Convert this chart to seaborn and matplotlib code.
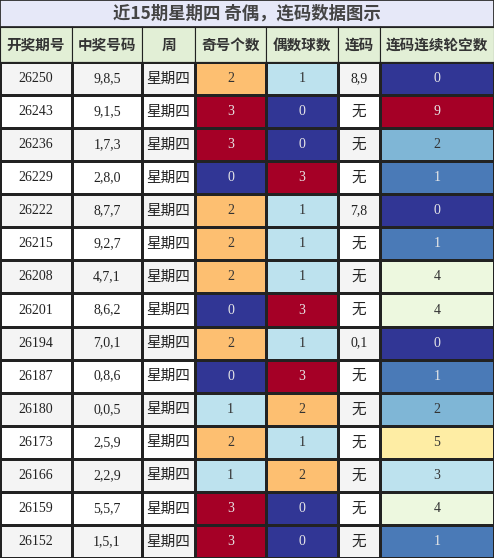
import numpy as np
import pandas as pd
import matplotlib
matplotlib.use("Agg")
import matplotlib.pyplot as plt
import seaborn as sns

issues = ["26250", "26243", "26236", "26229", "26222", "26215", "26208", "26201",
          "26194", "26187", "26180", "26173", "26166", "26159", "26152"]
draws = ["9,8,5", "9,1,5", "1,7,3", "2,8,0", "8,7,7", "9,2,7", "4,7,1", "8,6,2",
         "7,0,1", "0,8,6", "0,0,5", "2,5,9", "2,2,9", "5,5,7", "1,5,1"]
weekday = ["星期四"] * 15
odd_count = [2, 3, 3, 0, 2, 2, 2, 0, 2, 0, 1, 2, 1, 3, 3]
even_count = [1, 0, 0, 3, 1, 1, 1, 3, 1, 3, 2, 1, 2, 0, 0]
consec = ["8,9", "无", "无", "无", "7,8", "无", "无", "无", "0,1", "无", "无", "无", "无", "无", "无"]
gap = [0, 9, 2, 1, 0, 1, 4, 4, 0, 1, 2, 5, 3, 4, 1]
headers = ["开奖期号", "中奖号码", "周", "奇号个数", "偶数球数", "连码", "连码连续轮空数"]
title = "近15期星期四 奇偶，连码数据图示"

sns.set_theme(style="white")
plt.rcParams['font.family'] = ['Noto Sans CJK SC', 'DejaVu Sans']

W, H = 494, 558
fig = plt.figure(figsize=(W / 100, H / 100), dpi=100)
edges = [0, 72, 142, 195, 266, 338, 380, 494]
title_h, head_h = 27, 35
top = title_h + head_h
cmap = plt.get_cmap("RdYlBu_r")

def ax_at(x0, x1, y0, y1):
    return fig.add_axes([x0 / W, 1 - y1 / H, (x1 - x0) / W, (y1 - y0) / H])

# title
ax = ax_at(0, W, 0, title_h)
ax.set_facecolor("#e6e8f8")
ax.set_xticks([]); ax.set_yticks([])
ax.text(0.5, 0.5, title, ha="center", va="center", fontsize=12.5, fontweight="bold", color="#444444")

# header
for i, h in enumerate(headers):
    ax = ax_at(edges[i], edges[i + 1], title_h, top)
    ax.set_facecolor("#e2efd6")
    ax.set_xticks([]); ax.set_yticks([])
    for s in ax.spines.values():
        s.set_color("#222222"); s.set_linewidth(0.8)
    ax.text(0.5, 0.5, h, ha="center", va="center", fontsize=10.5, fontweight="bold", color="#333333")

serif = ['Liberation Serif', 'Noto Sans CJK SC']
text_cols = [issues, draws, weekday, None, None, consec, None]
num_cols = {3: (odd_count, 3), 4: (even_count, 3), 6: (gap, 9)}
for i in range(7):
    ax = ax_at(edges[i], edges[i + 1], top, H)
    if i in num_cols:
        vals, vmax = num_cols[i]
        df = pd.DataFrame({"v": vals})
        sns.heatmap(df, ax=ax, cmap=cmap, vmin=0, vmax=vmax, cbar=False,
                    annot=False, linewidths=0.8, linecolor="#222222",
                    xticklabels=False, yticklabels=False)
        for r, v in enumerate(vals):
            c = cmap(v / vmax)
            lum = 0.299 * c[0] + 0.587 * c[1] + 0.114 * c[2]
            ax.text(0.5, r + 0.5, str(v), ha="center", va="center", fontsize=10,
                    family=serif, color="#e8e8e8" if lum < 0.5 else "#333333")
    else:
        vals = text_cols[i]
        bg = np.array([[0.0] if r % 2 == 0 else [1.0] for r in range(15)])
        sns.heatmap(bg, ax=ax, cmap=matplotlib.colors.ListedColormap(["#f4f4f4", "#ffffff"]),
                    vmin=0, vmax=1, cbar=False, linewidths=0.8, linecolor="#222222",
                    xticklabels=False, yticklabels=False)
        for r, v in enumerate(vals):
            cjk = any(ord(ch) > 127 for ch in v)
            ax.text(0.5, r + 0.5, v, ha="center", va="center",
                    fontsize=10.5 if cjk else 10, family=serif if not cjk else ['Noto Sans CJK SC'],
                    color="#222222")
    for s in ax.spines.values():
        s.set_visible(True); s.set_color("#222222"); s.set_linewidth(0.8)

fig.savefig("out.png", dpi=100)
